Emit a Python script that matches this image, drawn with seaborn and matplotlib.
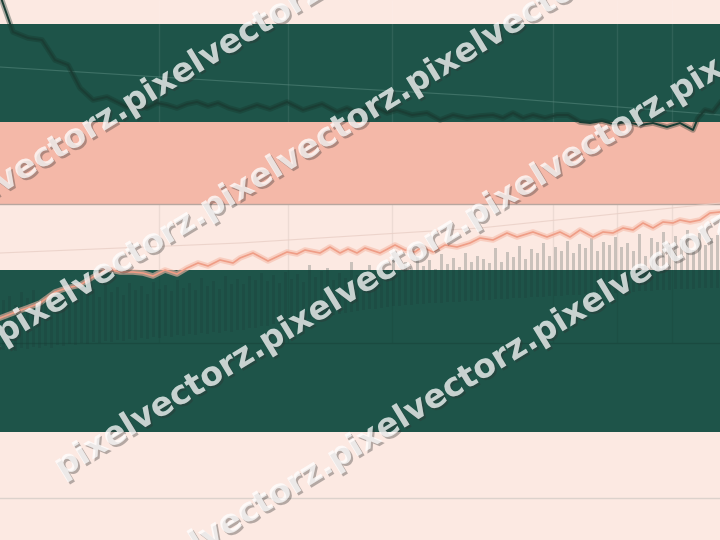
import math
import matplotlib
matplotlib.use("Agg")
import matplotlib.pyplot as plt
import matplotlib.patheffects as pe
from matplotlib.textpath import TextPath
from matplotlib.font_manager import FontProperties
import pandas as pd
import seaborn as sns

# ---------------- data ----------------
# background bands: level from / to (axis is inverted, 0 = top)
band_from = [0, 24, 122, 204, 270, 432]
band_to = [24, 122, 204, 270, 432, 540]
band_colors = ["#FCE9E2", "#1E5449", "#F4B8A8", "#FCE9E2", "#1E5449", "#FCE9E2"]

# upper (dark) series
upper_t = [0, 13, 28, 42, 55, 68, 80, 93, 107, 117, 127, 137, 147, 157, 167, 177, 187, 197,
           208, 218, 229, 240, 257, 270, 287, 303, 322, 337, 347, 357, 372, 387, 397, 412,
           427, 440, 453, 467, 480, 493, 503, 513, 523, 533, 545, 557, 568, 580, 590, 602,
           613, 627, 640, 653, 667, 680, 693, 698, 705, 713, 720]
upper_v = [-5, 32, 38, 40, 60, 65, 88, 100, 97, 102, 107, 104, 108, 103, 105, 108, 104, 102,
           106, 103, 108, 111, 105, 109, 102, 110, 104, 112, 108, 113, 105, 113, 110, 115,
           113, 120, 115, 118, 116, 115, 118, 113, 118, 115, 118, 115, 115, 122, 123, 121,
           124, 122, 125, 123, 127, 123, 130, 118, 110, 112, 103]
upper_trend_t = [0, 240, 480, 720]
upper_trend_v = [67, 82, 96, 115]

# lower (salmon) series
lower_t = [0, 13, 27, 40, 55, 67, 80, 93, 107, 120, 133, 143, 153, 165, 177, 187, 198, 208,
           220, 233, 240, 253, 268, 287, 297, 305, 320, 330, 340, 348, 357, 365, 380, 395,
           405, 415, 422, 433, 445, 457, 470, 480, 493, 507, 517, 533, 547, 560, 570, 580,
           593, 603, 613, 623, 633, 643, 653, 663, 673, 680, 690, 700, 710, 720]
lower_v = [318, 313, 308, 303, 292, 288, 285, 277, 269, 272, 272, 273, 276, 270, 274, 268,
           263, 266, 260, 263, 258, 253, 261, 252, 254, 250, 253, 247, 253, 249, 253, 248,
           253, 245, 250, 252, 247, 252, 245, 247, 243, 238, 240, 233, 237, 232, 237, 232,
           237, 230, 237, 232, 233, 228, 230, 223, 228, 222, 223, 220, 222, 220, 213, 212]
lower_trend_t = [0, 240, 480, 720]
lower_trend_v = [253, 243, 228, 203]

# range bars (high / low)
bar_t = [3 + 6 * i for i in range(120)]
bar_high = [300, 296, 305, 292, 298, 290, 300, 295, 302, 288, 297, 291, 299, 286, 294, 289,
            297, 284, 292, 287, 295, 283, 290, 286, 294, 282, 289, 285, 291, 280, 288, 283,
            290, 278, 286, 281, 289, 276, 284, 279,
            284, 276, 280, 273, 281, 275, 283, 272, 279, 274, 282, 265, 277, 271, 268, 280,
            273, 278, 262, 275, 281, 265, 272, 279, 270, 258, 271, 262, 268, 257, 266, 260,
            269, 254, 264, 258, 267, 253, 262, 256,
            259, 263, 248, 262, 252, 257, 246, 259, 249, 253, 243, 256, 247, 251, 241, 253,
            244, 248, 238, 251, 242, 245, 237, 247, 243, 251, 234, 256, 238, 242, 232, 247,
            236, 239, 230, 250, 233, 245, 238, 235]
bar_low = [350, 349, 351, 348, 349, 347, 348, 346, 348, 345, 346, 344, 345, 343, 344, 342,
           343, 341, 342, 340, 341, 339, 340, 338, 339, 337, 338, 336, 337, 335, 336, 334,
           335, 333, 334, 332, 333, 331, 332, 330,
           330, 328, 328, 326, 326, 324, 324, 323, 322, 321, 320, 319, 318, 317, 316, 315,
           314, 313, 312, 311, 310, 309, 309, 308, 307, 306, 306, 305, 305, 304, 304, 303,
           303, 303, 302, 302, 302, 301, 301, 301,
           300, 300, 299, 299, 299, 298, 298, 298, 297, 297, 297, 296, 296, 296, 295, 295,
           295, 294, 294, 294, 293, 293, 293, 292, 292, 292, 291, 291, 291, 290, 290, 290,
           289, 289, 289, 289, 288, 288, 288, 288]

# reference lines
vgrid_t = [159, 288, 392, 553, 617, 672]
hline_levels = [204, 343, 498]
hline_colors = ["#B8A69F", "#1A4A40", "#DCD2CC"]

# watermark: start of each "pixelvectorz." word (baseline, left)
wm_text = "pixelvectorz."
wm_x = [-75, 130, -202, 3, 208, 413, 62, 267, 472, 677, 130, 335, 540]
wm_y = [240, 115, 470, 345, 220, 95, 478, 353, 228, 103, 595, 470, 345]

# ---------------- drawing ----------------
fig = plt.figure(figsize=(7.2, 5.4), dpi=100)
ax = fig.add_axes([0, 0, 1, 1])
ax.set_xlim(0, 720)
ax.set_ylim(540, 0)
ax.axis("off")

for a, b, c in zip(band_from, band_to, band_colors):
    ax.axhspan(a, b, color=c, lw=0, zorder=0)

# vertical grid lines
ax.vlines(vgrid_t, 0, 122, color="white", alpha=0.08, lw=1, zorder=1)
ax.vlines(vgrid_t, 204, 343, color="black", alpha=0.06, lw=1, zorder=1)

for lv, c in zip(hline_levels, hline_colors):
    ax.axhline(lv, color=c, lw=1, zorder=1)

# trend lines
sns.lineplot(x=upper_trend_t, y=upper_trend_v, ax=ax, color="#5E8F84", lw=0.8,
             alpha=0.5, estimator=None, sort=False, zorder=2)
sns.lineplot(x=lower_trend_t, y=lower_trend_v, ax=ax, color="#E9CFC6", lw=0.8,
             alpha=0.8, estimator=None, sort=False, zorder=2)

# range bars
bars = pd.DataFrame({"t": bar_t, "high": bar_high, "low": bar_low})
ax.bar(bars["t"], bars["high"] - bars["low"], bottom=bars["low"], width=3,
       color="#1B3634", alpha=0.22, lw=0, zorder=2)

# main series
upper = pd.DataFrame({"t": upper_t, "v": upper_v})
lower = pd.DataFrame({"t": lower_t, "v": lower_v})
sns.lineplot(data=upper, x="t", y="v", ax=ax, color="#1A3D34", lw=1.4,
             estimator=None, sort=False, zorder=4)
ax.lines[-1].set_path_effects([pe.Stroke(linewidth=4, foreground="#163229", alpha=0.35),
                               pe.Normal()])
sns.lineplot(data=lower, x="t", y="v", ax=ax, color="#EF9D86", lw=1.2,
             estimator=None, sort=False, zorder=4)
ax.lines[-1].set_path_effects([pe.Stroke(linewidth=4, foreground="#F6BBA9", alpha=0.6),
                               pe.Normal()])
ax.set_xlabel("")
ax.set_ylabel("")
if ax.get_legend():
    ax.get_legend().remove()

# watermark
fp = FontProperties(family="DejaVu Sans", weight="bold")
w_per_pt = TextPath((0, 0), wm_text, size=1, prop=fp).get_extents().width
step = math.hypot(205, 125)
wm_size = (step - 6) / (w_per_pt * 100 / 72)
wm_angle = math.degrees(math.atan2(125, 205))
shadow = [pe.withSimplePatchShadow(offset=(1.5, -1.5), shadow_rgbFace="#303030", alpha=0.35),
          pe.Normal()]
for x0, y0 in zip(wm_x, wm_y):
    t = ax.text(x0, y0, wm_text, rotation=wm_angle, rotation_mode="anchor",
                ha="left", va="baseline", fontproperties=fp, fontsize=wm_size,
                color="white", alpha=0.5, zorder=10)
    t.set_path_effects(shadow)

fig.savefig("out.png", dpi=100)
